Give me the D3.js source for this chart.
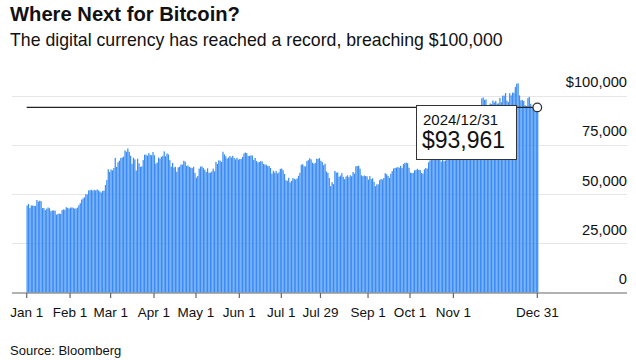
<!DOCTYPE html>
<html><head><meta charset="utf-8">
<script src="https://cdn.jsdelivr.net/npm/d3@7"></script>
<style>
body{margin:0;background:#fff;}
svg{display:block;font-family:"Liberation Sans",Arial,Helvetica,sans-serif;}
</style></head>
<body><svg id="c" width="636" height="360"></svg>
<script>
// Daily closes, 2024 (USD)
const jan=[44167,44958,42848,44179,44162,43989,43943,46970,46139,46627,46368,42853,42842,41796,42511,43155,42742,41262,41618,41665,41545,39507,39845,40077,39934,41816,42120,42035,43288,42952,42582];
const feb=[43076,43185,42993,42583,42659,43084,44319,45302,47147,47771,48294,49958,49742,51826,51938,52160,51663,52122,51779,52284,51839,51304,50731,51571,51733,54522,57085,62504,61198];
const mar=[62440,62029,63167,68330,63801,66106,66925,68300,68498,69019,72123,71481,73083,71397,69403,65316,68390,67548,61912,67913,65491,63778,64062,67234,69958,69987,69455,70744,69892,69645,71333];
const apr=[69702,65446,65980,68508,67837,68896,69362,71631,69139,70587,70060,67195,63821,65738,63426,63811,61276,63512,63843,64994,64927,66837,66408,64276,64482,63756,63419,63113,63842,60636];
const may=[58254,59123,62889,63892,64031,63162,62335,61188,63049,60793,60794,61448,62901,61553,66267,65231,67051,66940,66278,71448,70136,69122,67929,68526,69265,68518,69394,68296,67578,68364,67491];
const jun=[67706,67751,68804,70567,71082,70757,69342,69305,69648,69541,67314,68263,66773,66044,66228,66676,66505,65175,64974,64869,64143,64262,63210,60293,61807,60864,61707,60427,60986,62772];
const jul=[62900,62029,60173,56978,56663,58231,55857,56662,58037,57713,57344,57899,59232,60787,64870,65097,64119,63974,66710,67164,68154,67585,65927,65372,65777,67912,67813,68255,66819,66201,64619];
const aug=[65357,61415,60680,58116,53991,56034,55027,61710,60880,60945,58719,59354,60609,58737,57560,58894,59478,58483,59493,59012,61175,60381,64094,64178,64333,62880,59504,59027,59388,59119,58969];
const sep=[57325,59112,57541,58000,56151,53956,54880,54885,57019,57648,57343,58127,60571,60005,59182,58192,60309,61649,62940,63192,63395,63648,63329,64301,63143,65181,65790,65887,65635,63329];
const oct=[60837,60632,60759,62068,62089,62819,62224,62160,60636,60326,62540,63206,62871,66083,67042,67612,67399,68418,68362,69002,67367,67361,66432,68161,66642,67014,67929,69907,72720,72339,70215];
const nov=[69482,69289,68742,67811,69359,75639,75904,76545,76778,80474,88701,87955,90585,87250,91066,90558,89845,90542,92343,94339,98504,98997,97777,98013,93102,91985,95962,95652,97461,96449];
const dec=[97279,95865,96002,98768,96594,99920,99924,101236,97432,96675,101173,100043,101459,101373,104298,106030,106141,100041,97490,97755,97225,95105,94686,98676,99299,95795,94164,95163,93531,92643,93961];

const yTicks=[0,25000,50000,75000,100000];
const xTickDates=["2024-01-01","2024-02-01","2024-03-01","2024-04-01","2024-05-01","2024-06-01","2024-07-01","2024-07-29","2024-09-01","2024-10-01","2024-11-01","2024-12-31"];
const xTickLabels=["Jan 1","Feb 1","Mar 1","Apr 1","May 1","Jun 1","Jul 1","Jul 29","Sep 1","Oct 1","Nov 1","Dec 31"];
const lastLabelDate="2024/12/31";
const lastLabelValue="$93,961";

const months=[jan,feb,mar,apr,may,jun,jul,aug,sep,oct,nov,dec];
const data=[];
months.forEach((m,mi)=>m.forEach((v,di)=>data.push({date:new Date(2024,mi,di+1),value:v})));

const svg=d3.select("#c");
const x=d3.scaleTime().domain([new Date(2024,0,1),new Date(2024,11,31)]).range([26.7,537.3]);
const y=d3.scaleLinear().domain([0,100000]).range([292.5,95.5]);
const step=(x.range()[1]-x.range()[0])/365;

// title
svg.append("text").attr("x",10).attr("y",21).attr("font-size",20.2).attr("font-weight","bold").attr("fill","#111").text("Where Next for Bitcoin?");
svg.append("text").attr("x",10).attr("y",46).attr("font-size",17.7).attr("fill","#111").text("The digital currency has reached a record, breaching $100,000");

// grid
const gx0=12,gx1=627;
svg.append("g").selectAll("line").data(yTicks.filter(d=>d>0)).join("line")
  .attr("x1",gx0).attr("x2",gx1).attr("y1",d=>Math.round(y(d))+0.5).attr("y2",d=>Math.round(y(d))+0.5)
  .attr("stroke","#e6e6e6").attr("stroke-width",1);
svg.append("g").selectAll("text").data(yTicks).join("text")
  .attr("x",627).attr("y",d=>y(d)-8.5).attr("text-anchor","end").attr("font-size",14.7).attr("fill","#111")
  .text(d=>d===100000?"$"+d3.format(",")(d):d3.format(",")(d));

// bars
svg.append("g").selectAll("rect").data(data).join("rect")
  .attr("x",d=>x(d.date)-0.2).attr("width",step*0.88)
  .attr("y",d=>y(d.value)).attr("height",d=>y(0)-y(d.value))
  .attr("fill","#3a8cf4");

// axis
svg.append("line").attr("x1",gx0).attr("x2",gx1).attr("y1",293).attr("y2",293).attr("stroke","#666").attr("stroke-width",1.2);
const xt=xTickDates.map((s,i)=>({d:d3.timeParse("%Y-%m-%d")(s),l:xTickLabels[i]}));
const tg=svg.append("g").selectAll("g").data(xt).join("g").attr("transform",d=>`translate(${x(d.d)},0)`);
tg.append("line").attr("y1",293).attr("y2",298).attr("stroke","#666").attr("stroke-width",1.2);
tg.append("text").attr("y",317).attr("text-anchor","middle").attr("font-size",13.5).attr("fill","#111").text(d=>d.l);

// source
svg.append("text").attr("x",10).attr("y",355).attr("font-size",13).attr("fill","#111").text("Source: Bloomberg");

// annotation
const last=data[data.length-1];
const ly=y(last.value);
svg.append("line").attr("x1",x(data[0].date)).attr("x2",x(last.date)).attr("y1",ly).attr("y2",ly).attr("stroke","#222").attr("stroke-width",1.2);
svg.append("rect").attr("x",416.5).attr("y",105.5).attr("width",100).attr("height",54).attr("fill","#fff").attr("stroke","#333").attr("stroke-width",1);
svg.append("text").attr("x",423).attr("y",125).attr("font-size",15).attr("fill","#111").text(lastLabelDate);
svg.append("text").attr("x",422).attr("y",147.5).attr("font-size",23).attr("fill","#111").text(lastLabelValue);
svg.append("circle").attr("cx",x(last.date)).attr("cy",ly).attr("r",4.3).attr("fill","#fff").attr("stroke","#333").attr("stroke-width",1.3);
</script></body></html>
